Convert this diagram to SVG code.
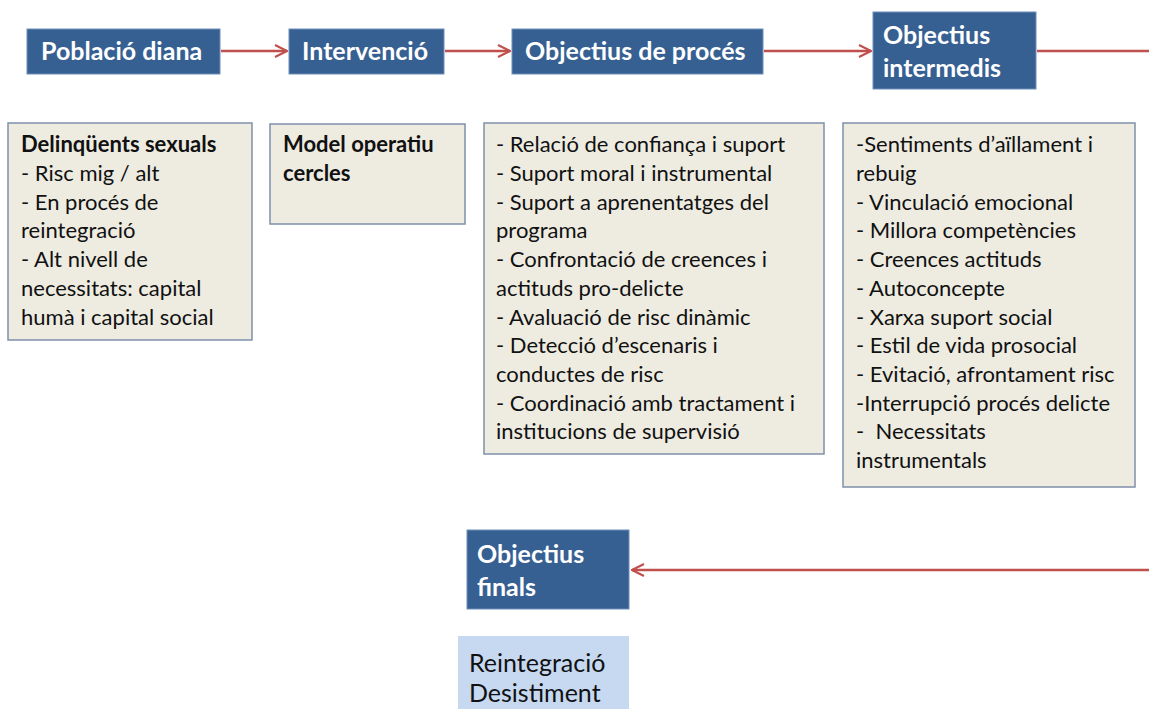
<svg xmlns="http://www.w3.org/2000/svg" width="1149" height="709" viewBox="0 0 1149 709">
<style>
.hdr{fill:#376092;stroke:#6f8fbb;stroke-width:1}
.ht{font-family:Lato,"Open Sans","Liberation Sans",sans-serif;font-weight:bold;font-size:25px;fill:#ffffff}
.box{fill:#eeece1;stroke:#7f90ab;stroke-width:1.5}
.bt{font-family:Lato,"Open Sans","Liberation Sans",sans-serif;font-size:22px;fill:#111111;white-space:pre}
.b{font-weight:bold}
.fin{fill:#c6d9f1;stroke:none}
.ft{font-family:Lato,"Open Sans","Liberation Sans",sans-serif;font-size:25px;fill:#111111}
.con{stroke:#c0504d;stroke-width:2.5;fill:none}
</style>
<defs>
<marker id="ah" viewBox="0 0 14 14" refX="13" refY="7" markerWidth="14" markerHeight="14" markerUnits="userSpaceOnUse" orient="auto">
<path d="M1,1 L13,7 L1,13" fill="none" stroke="#c0504d" stroke-width="2.2"/>
</marker>
</defs>
<rect width="1149" height="709" fill="#ffffff"/>
<g id="connectors">
<line class="con" x1="221" y1="51" x2="287" y2="51" marker-end="url(#ah)"/>
<line class="con" x1="445" y1="51" x2="510" y2="51" marker-end="url(#ah)"/>
<line class="con" x1="764" y1="51" x2="871" y2="51" marker-end="url(#ah)"/>
<line class="con" x1="1037" y1="51" x2="1149" y2="51"/>
<line class="con" x1="1149" y1="570" x2="632" y2="570" marker-end="url(#ah)"/>
</g>
<g id="poblacio">
<rect class="hdr" x="27" y="29" width="193" height="45"/>
<text class="ht" x="41" y="60">Població diana</text>
</g>
<g id="intervencio">
<rect class="hdr" x="289" y="29" width="155" height="45"/>
<text class="ht" x="302" y="60">Intervenció</text>
</g>
<g id="objectius-proces">
<rect class="hdr" x="512" y="29" width="251" height="45"/>
<text class="ht" x="525" y="60">Objectius de procés</text>
</g>
<g id="objectius-intermedis">
<rect class="hdr" x="873" y="12" width="163" height="77"/>
<text class="ht" x="883" y="44">Objectius</text>
<text class="ht" x="883" y="77">intermedis</text>
</g>
<g id="delinquents">
<rect class="box" x="8" y="123" width="244" height="217"/>
<text class="bt" x="21"><tspan class="b" x="21" y="152">Delinqüents sexuals</tspan><tspan x="21" y="181">- Risc mig / alt</tspan><tspan x="21" y="210">- En procés de</tspan><tspan x="21" y="238">reintegració</tspan><tspan x="21" y="267">- Alt nivell de</tspan><tspan x="21" y="296">necessitats: capital</tspan><tspan x="21" y="325">humà i capital social</tspan></text>
</g>
<g id="model">
<rect class="box" x="270" y="124" width="195" height="100"/>
<text class="bt b" x="283"><tspan x="283" y="152">Model operatiu</tspan><tspan x="283" y="181">cercles</tspan></text>
</g>
<g id="proces-list">
<rect class="box" x="484" y="123" width="340" height="331"/>
<text class="bt" x="496"><tspan x="496" y="152">- Relació de confiança i suport</tspan><tspan x="496" y="181">- Suport moral i instrumental</tspan><tspan x="496" y="210">- Suport a aprenentatges del</tspan><tspan x="496" y="238">programa</tspan><tspan x="496" y="267">- Confrontació de creences i</tspan><tspan x="496" y="296">actituds pro-delicte</tspan><tspan x="496" y="325">- Avaluació de risc dinàmic</tspan><tspan x="496" y="353">- Detecció d’escenaris i</tspan><tspan x="496" y="382">conductes de risc</tspan><tspan x="496" y="411">- Coordinació amb tractament i</tspan><tspan x="496" y="439">institucions de supervisió</tspan></text>
</g>
<g id="intermedis-list">
<rect class="box" x="843" y="123" width="292" height="364"/>
<text class="bt" x="856"><tspan x="856" y="152">-Sentiments d’aïllament i</tspan><tspan x="856" y="181">rebuig</tspan><tspan x="856" y="210">- Vinculació emocional</tspan><tspan x="856" y="238">- Millora competències</tspan><tspan x="856" y="267">- Creences actituds</tspan><tspan x="856" y="296">- Autoconcepte</tspan><tspan x="856" y="325">- Xarxa suport social</tspan><tspan x="856" y="353">- Estil de vida prosocial</tspan><tspan x="856" y="382">- Evitació, afrontament risc</tspan><tspan x="856" y="411">-Interrupció procés delicte</tspan><tspan x="856" y="439">-  Necessitats</tspan><tspan x="856" y="468">instrumentals</tspan></text>
</g>
<g id="objectius-finals">
<rect class="hdr" x="467" y="530" width="162" height="79"/>
<text class="ht" x="477" y="563">Objectius</text>
<text class="ht" x="477" y="596">finals</text>
</g>
<g id="reintegracio">
<rect class="fin" x="458" y="636" width="171" height="73"/>
<text class="ft" x="469" y="672">Reintegració</text>
<text class="ft" x="469" y="702">Desistiment</text>
</g>
</svg>
